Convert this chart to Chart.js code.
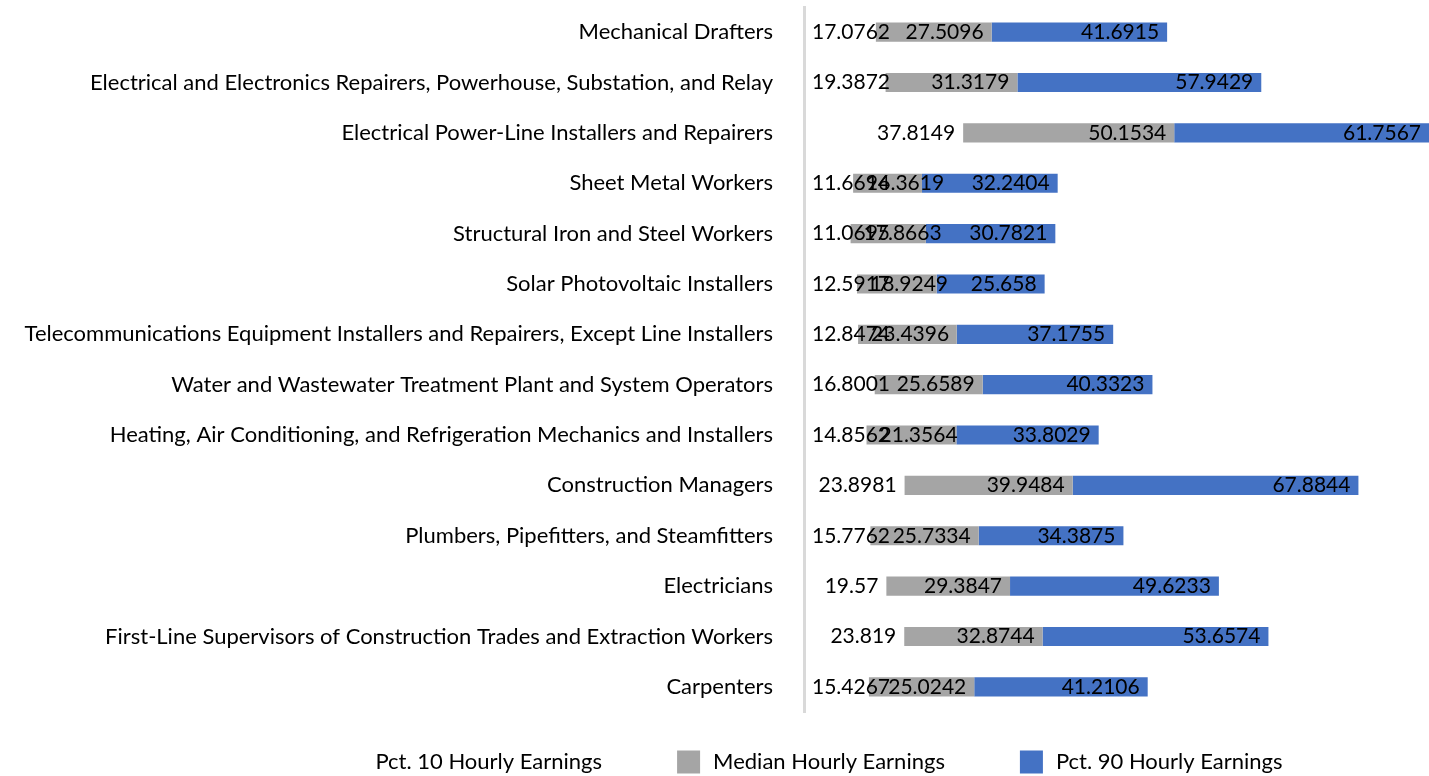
<!DOCTYPE html>
<html lang="en">
<head>
    <meta charset="UTF-8">
    <title>Hourly Earnings by Occupation</title>
    <script src="https://cdn.jsdelivr.net/npm/chart.js"></script>
    <style>
        html, body {
            margin: 0;
            padding: 0;
            background: #fff;
        }
        #wrap {
            width: 1429px;
            height: 776px;
            position: relative;
        }
    </style>
</head>
<body>
    <div id="wrap">
        <canvas id="earnings-chart"></canvas>
    </div>

    <script>
        // Occupations, top to bottom as shown
        const occupations = [
            'Mechanical Drafters',
            'Electrical and Electronics Repairers, Powerhouse, Substation, and Relay',
            'Electrical Power-Line Installers and Repairers',
            'Sheet Metal Workers',
            'Structural Iron and Steel Workers',
            'Solar Photovoltaic Installers',
            'Telecommunications Equipment Installers and Repairers, Except Line Installers',
            'Water and Wastewater Treatment Plant and System Operators',
            'Heating, Air Conditioning, and Refrigeration Mechanics and Installers',
            'Construction Managers',
            'Plumbers, Pipefitters, and Steamfitters',
            'Electricians',
            'First-Line Supervisors of Construction Trades and Extraction Workers',
            'Carpenters'
        ];

        const pct10 = [17.0762, 19.3872, 37.8149, 11.6694, 11.0695, 12.5917, 12.8474,
                       16.8001, 14.8562, 23.8981, 15.7762, 19.57, 23.819, 15.4267];
        const median = [27.5096, 31.3179, 50.1534, 16.3619, 17.8663, 18.9249, 23.4396,
                        25.6589, 21.3564, 39.9484, 25.7334, 29.3847, 32.8744, 25.0242];
        const pct90 = [41.6915, 57.9429, 61.7567, 32.2404, 30.7821, 25.658, 37.1755,
                       40.3323, 33.8029, 67.8844, 34.3875, 49.6233, 53.6574, 41.2106];

        const seriesNames = ['Pct. 10 Hourly Earnings', 'Median Hourly Earnings', 'Pct. 90 Hourly Earnings'];
        const seriesColors = ['rgba(0,0,0,0)', '#A5A5A5', '#4472C4'];
        const xMax = 148.5;

        const FONT = 'Lato';
        const LABEL_SIZE = 22;
        const VALUE_SIZE = 21;

        // value labels, "inside end" like the spreadsheet, pushed right when they don't fit
        const valueLabels = {
            id: 'valueLabels',
            afterDatasetsDraw(chart) {
                const ctx = chart.ctx;
                ctx.save();
                ctx.font = VALUE_SIZE + 'px ' + FONT;
                ctx.fillStyle = '#000';
                ctx.textBaseline = 'middle';
                ctx.textAlign = 'left';
                chart.data.datasets.forEach((ds, i) => {
                    const meta = chart.getDatasetMeta(i);
                    meta.data.forEach((bar, j) => {
                        const txt = String(ds.data[j]);
                        const w = ctx.measureText(txt).width;
                        let left = Math.min(bar.x, chart.width) - 8 - w;
                        const minLeft = bar.base + (i === 0 ? 8 : 13);
                        if (left < minLeft) left = minLeft;
                        ctx.fillText(txt, left, bar.y);
                    });
                });
                ctx.restore();
            }
        };

        // legend along the bottom
        const bottomLegend = {
            id: 'bottomLegend',
            afterDraw(chart) {
                const ctx = chart.ctx;
                ctx.save();
                ctx.font = LABEL_SIZE + 'px ' + FONT;
                ctx.textBaseline = 'middle';
                const box = 23, gap = 13, spacing = 75;
                const items = chart.data.datasets.map(d => ({
                    text: d.label,
                    color: d.backgroundColor,
                    w: ctx.measureText(d.label).width
                }));
                const total = items.reduce((s, it) => s + box + gap + it.w, 0) + spacing * (items.length - 1);
                let x = 811 - total / 2;
                const y = 762;
                items.forEach(it => {
                    ctx.fillStyle = it.color;
                    ctx.fillRect(x, y - box / 2, box, box);
                    x += box + gap;
                    ctx.fillStyle = '#000';
                    ctx.fillText(it.text, x, y);
                    x += it.w + spacing;
                });
                ctx.restore();
            }
        };

        const seriesData = [pct10, median, pct90];

        const ctx = document.getElementById('earnings-chart').getContext('2d');
        const chart = new Chart(ctx, {
            type: 'bar',
            data: {
                labels: occupations,
                datasets: seriesData.map((d, i) => ({
                    label: seriesNames[i],
                    data: d,
                    backgroundColor: seriesColors[i],
                    borderWidth: 0,
                    barPercentage: 0.38,
                    categoryPercentage: 1.0
                }))
            },
            options: {
                indexAxis: 'y',
                responsive: true,
                maintainAspectRatio: false,
                animation: false,
                devicePixelRatio: 1,
                layout: {
                    padding: { top: 7, bottom: 64, left: 0, right: 0 }
                },
                plugins: {
                    legend: { display: false },
                    tooltip: { enabled: false }
                },
                scales: {
                    x: {
                        stacked: true,
                        min: 0,
                        max: xMax,
                        display: false
                    },
                    y: {
                        stacked: true,
                        grid: { display: false, drawTicks: false },
                        border: { display: true, color: '#d9d9d9', width: 3 },
                        ticks: {
                            color: '#000',
                            autoSkip: false,
                            padding: 31,
                            font: { family: FONT, size: LABEL_SIZE }
                        },
                        afterFit(scale) {
                            scale.width = 804;
                            // tick padding shouldn't push the plot area down
                            scale.paddingTop = 0;
                            scale.paddingBottom = 0;
                        }
                    }
                }
            },
            plugins: [valueLabels, bottomLegend]
        });
    </script>
</body>
</html>
